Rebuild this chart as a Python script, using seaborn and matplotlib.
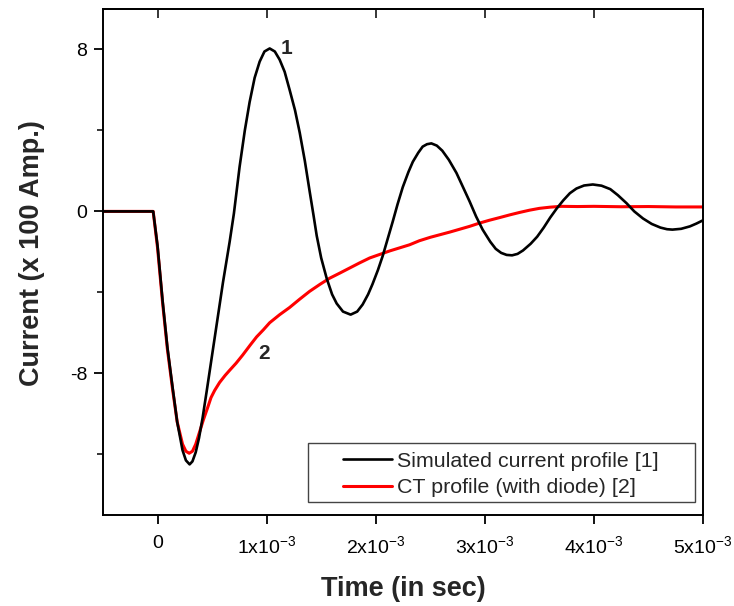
import matplotlib
matplotlib.use("Agg")
import matplotlib.pyplot as plt
from matplotlib.ticker import FixedLocator
from matplotlib.patches import Rectangle
import seaborn as sns
import pandas as pd

# ---- data (time in ms, current in x100 A) ----
sim_time_ms = [-0.50, -0.04, 0.0, 0.046, 0.09, 0.138, 0.18, 0.229, 0.26, 0.294, 0.32, 0.35,
               0.38, 0.413, 0.45, 0.50, 0.55, 0.60, 0.661, 0.70, 0.752, 0.80, 0.844, 0.89,
               0.936, 0.98, 1.028, 1.075, 1.119, 1.165, 1.211, 1.26, 1.303, 1.35, 1.394,
               1.43, 1.459, 1.50, 1.55, 1.60, 1.642, 1.70, 1.77, 1.83, 1.88, 1.93, 1.97,
               2.02, 2.064, 2.11, 2.156, 2.20, 2.248, 2.30, 2.34, 2.39, 2.43, 2.47, 2.51,
               2.56, 2.61, 2.67, 2.74, 2.80, 2.86, 2.92, 2.98, 3.05, 3.10, 3.15, 3.20,
               3.25, 3.30, 3.35, 3.42, 3.48, 3.54, 3.60, 3.66, 3.72, 3.78, 3.84, 3.91,
               3.99, 4.07, 4.15, 4.22, 4.30, 4.37, 4.45, 4.53, 4.61, 4.67, 4.72, 4.80,
               4.88, 4.94, 5.00]
sim_current = [0.0, 0.0, -1.7, -4.4, -6.7, -8.7, -10.4, -11.8, -12.3, -12.5, -12.35, -11.9,
               -11.2, -10.2, -8.9, -7.1, -5.3, -3.5, -1.5, -0.1, 2.2, 4.0, 5.4, 6.6,
               7.4, 7.9, 8.05, 7.9, 7.5, 6.9, 6.0, 5.0, 3.9, 2.5, 1.0,
               -0.2, -1.2, -2.3, -3.3, -4.1, -4.55, -4.95, -5.1, -4.95, -4.6, -4.1, -3.6,
               -2.9, -2.2, -1.35, -0.5, 0.35, 1.2, 1.95, 2.45, 2.9, 3.2, 3.32, 3.36,
               3.25, 3.0, 2.55, 1.9, 1.2, 0.5, -0.25, -0.9, -1.5, -1.85, -2.05, -2.15,
               -2.17, -2.1, -1.93, -1.6, -1.25, -0.8, -0.3, 0.15, 0.55, 0.9, 1.13, 1.28,
               1.33, 1.27, 1.1, 0.8, 0.4, 0.0, -0.35, -0.62, -0.8, -0.88, -0.9, -0.86,
               -0.74, -0.6, -0.44]

ct_time_ms = [-0.50, -0.04, 0.0, 0.046, 0.09, 0.138, 0.18, 0.229, 0.26, 0.29, 0.32, 0.35,
              0.385, 0.42, 0.459, 0.49, 0.523, 0.569, 0.62, 0.661, 0.72, 0.78, 0.85,
              0.908, 0.97, 1.028, 1.12, 1.21, 1.30, 1.394, 1.49, 1.578, 1.67, 1.76,
              1.85, 1.945, 2.04, 2.13, 2.22, 2.31, 2.40, 2.50, 2.59, 2.68, 2.77, 2.86,
              2.95, 3.04, 3.14, 3.23, 3.32, 3.41, 3.50, 3.60, 3.70, 3.85, 4.00, 4.25,
              4.50, 4.75, 5.00]
ct_current = [0.0, 0.0, -1.8, -4.5, -6.8, -8.8, -10.4, -11.5, -11.85, -11.95, -11.85, -11.5,
              -10.9, -10.3, -9.7, -9.2, -8.85, -8.45, -8.1, -7.85, -7.5, -7.1, -6.6,
              -6.2, -5.85, -5.5, -5.1, -4.75, -4.35, -3.95, -3.6, -3.3, -3.05, -2.8,
              -2.55, -2.3, -2.12, -1.95, -1.8, -1.65, -1.45, -1.28, -1.15, -1.02, -0.88, -0.74,
              -0.58, -0.44, -0.3, -0.17, -0.05, 0.06, 0.15, 0.21, 0.25, 0.24, 0.25, 0.23,
              0.24, 0.22, 0.22]

series_labels = ["Simulated current profile [1]", "CT profile (with diode) [2]"]
x_ticks_ms = [0, 1, 2, 3, 4, 5]
x_tick_labels = ["0", "1x10$^{-3}$", "2x10$^{-3}$", "3x10$^{-3}$", "4x10$^{-3}$", "5x10$^{-3}$"]
y_ticks = [-8, 0, 8]
y_tick_labels = ["-8", "0", "8"]

sim_df = pd.DataFrame({"time": [t * 1e-3 for t in sim_time_ms], "current": sim_current})
ct_df = pd.DataFrame({"time": [t * 1e-3 for t in ct_time_ms], "current": ct_current})

sns.set_style("ticks")
plt.rcParams["font.family"] = ["Liberation Sans", "DejaVu Sans"]
plt.rcParams["mathtext.fontset"] = "custom"
plt.rcParams["mathtext.rm"] = "Liberation Sans"
plt.rcParams["mathtext.it"] = "Liberation Sans"
plt.rcParams["mathtext.bf"] = "Liberation Sans:bold"

fig = plt.figure(figsize=(7.34, 6.06), dpi=100)
ax = fig.add_axes([103 / 734, 1 - 515 / 606, 600 / 734, 506 / 606])

sns.lineplot(data=ct_df, x="time", y="current", ax=ax, color="#ff0000", lw=2.2,
             sort=False, zorder=2, label=series_labels[1])
sns.lineplot(data=sim_df, x="time", y="current", ax=ax, color="black", lw=1.9,
             sort=False, zorder=3, label=series_labels[0])

ax.set_xlim(-0.5e-3, 5e-3)
ax.set_ylim(-15, 10)

ax.xaxis.set_major_locator(FixedLocator([t * 1e-3 for t in x_ticks_ms]))
ax.set_xticklabels(x_tick_labels)
ax.yaxis.set_major_locator(FixedLocator(y_ticks))
ax.set_yticklabels(y_tick_labels)
ax.yaxis.set_minor_locator(FixedLocator([-12, -4, 4]))

ax.tick_params(axis="both", which="major", direction="out", length=6.5, width=1.3,
               labelsize=14, colors="black", pad=5)
ax.tick_params(axis="y", which="minor", direction="out", length=4, width=1.3, left=True)
ax.tick_params(axis="x", which="major", pad=8)

# top ticks pointing inwards
top = ax.secondary_xaxis("top")
top.xaxis.set_major_locator(FixedLocator([t * 1e-3 for t in x_ticks_ms]))
top.tick_params(direction="in", length=6.5, width=1.3, labeltop=False)
top.spines["top"].set_linewidth(1.4)

for s in ax.spines.values():
    s.set_linewidth(1.4)
    s.set_color("black")
    s.set_visible(True)

ax.set_xlabel("Time (in sec)", fontsize=19.5, fontweight="bold", labelpad=14)
ax.set_ylabel("Current (x 100 Amp.)", fontsize=19.5, fontweight="bold", labelpad=18)
ax.yaxis.label.set_y((515 - 253) / 506)

ax.text(1.18e-3, 8.05, "1", fontsize=15, fontweight="bold", ha="center", va="center")
ax.text(0.98e-3, -7.0, "2", fontsize=15, fontweight="bold", ha="center", va="center")

# legend box (wide padding, as in the original)
box = Rectangle(((308 - 103) / 600, (515 - 502) / 506), (695 - 308) / 600, (502 - 443) / 506,
                transform=ax.transAxes, facecolor="white", edgecolor="#444444",
                lw=1.0, zorder=4)
ax.add_patch(box)

handles, labels = ax.get_legend_handles_labels()
order = [labels.index(series_labels[0]), labels.index(series_labels[1])]
leg = ax.legend([handles[i] for i in order], [labels[i] for i in order],
                loc="center", bbox_to_anchor=((500.5 - 103) / 600, (515 - 474.5) / 506),
                fontsize=15.4, frameon=False,
                handlelength=2.3, handletextpad=0.23, labelspacing=0.34,
                borderpad=0.0, borderaxespad=0)
leg.set_zorder(5)

fig.savefig("out.png", dpi=100)
